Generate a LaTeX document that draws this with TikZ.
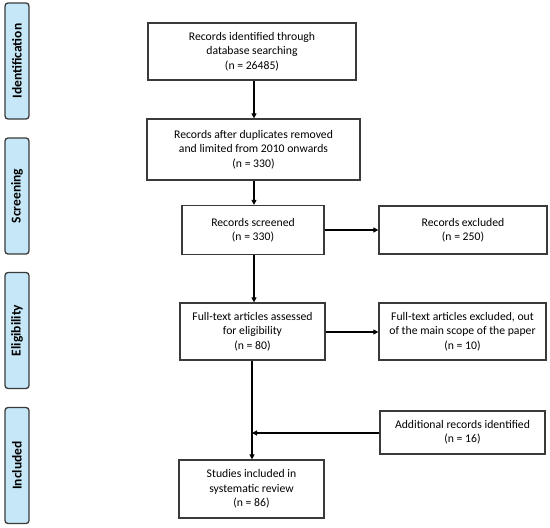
\documentclass[tikz,border=0pt]{standalone}
\usepackage{fontspec}
\setmainfont{Carlito}
\usetikzlibrary{arrows.meta}
\definecolor{sidefill}{HTML}{C6E7F7}
\definecolor{linegray}{HTML}{3A3A3A}
\begin{document}
\begin{tikzpicture}[x=1pt,y=-1pt,
  box/.style={draw=linegray,line width=1.3pt,align=center,inner sep=2pt,font=\fontsize{11.7}{14.3}\selectfont},
  side/.style={draw=linegray,line width=1.3pt,rounded corners=3pt,fill=sidefill,minimum width=116pt,minimum height=24pt,rotate=90,font=\fontsize{13.5}{15}\selectfont\bfseries},
  arr/.style={line width=1.3pt,draw=black,-{Triangle[length=5pt,width=5pt]}}]
\useasboundingbox (0,0) rectangle (550,528);
\node[side] (s1) at (17,61) {Identification};
\node[side] (s2) at (17,196) {Screening};
\node[side] (s3) at (17,330.5) {Eligibility};
\node[side] (s4) at (17,465.5) {Included};
\node[box,minimum width=208pt,minimum height=57pt] (b1) at (252,51.5) {Records identified through\\database searching\\(n = 26485)};
\node[box,minimum width=213pt,minimum height=61pt] (b2) at (253.5,149.5) {Records after duplicates removed\\and limited from 2010 onwards\\(n = 330)};
\node[box,minimum width=142pt,minimum height=49pt] (b3) at (253,230) {Records screened\\(n = 330)};
\node[box,minimum width=168pt,minimum height=48pt] (e1) at (463,230) {Records excluded\\(n = 250)};
\node[box,minimum width=145pt,minimum height=57pt] (b4) at (252.5,331.5) {Full-text articles assessed\\for eligibility\\(n = 80)};
\node[box,minimum width=167pt,minimum height=57pt] (e2) at (462.5,331.5) {Full-text articles excluded, out\\of the main scope of the paper\\(n = 10)};
\node[box,minimum width=165pt,minimum height=43pt] (ad) at (462.5,432.5) {Additional records identified\\(n = 16)};
\node[box,minimum width=145pt,minimum height=58pt] (b5) at (251.5,489) {Studies included in\\systematic review\\(n = 86)};
\coordinate (j) at (252,433);
\coordinate (h2) at (0,332);
\draw[arr] (b1.south -| 254,0) -- (b2.north -| 254,0);
\draw[arr] (b2.south -| 254,0) -- (b3.north -| 254,0);
\draw[arr] (b3.south -| 254,0) -- (b4.north -| 254,0);
\draw[arr] (b4.south -| 252,0) -- (b5.north -| 252,0);
\draw[arr] (b3.east) -- (e1.west);
\draw[arr] (b4.east |- h2) -- (e2.west |- h2);
\draw[arr] (ad.west |- j) -- (j);
\end{tikzpicture}
\end{document}
